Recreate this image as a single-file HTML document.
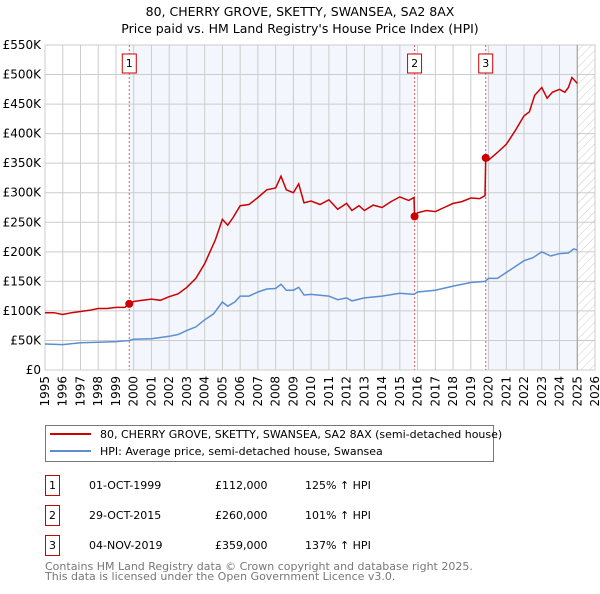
<!DOCTYPE html>
<html><head><meta charset="utf-8"><style>
body{margin:0;background:#fff;font-family:"DejaVu Sans","Liberation Sans",sans-serif;}
svg text{font-family:"DejaVu Sans","Liberation Sans",sans-serif;}
</style></head><body>
<svg id="c" width="600" height="590" viewBox="0 0 600 590" xmlns="http://www.w3.org/2000/svg">
<defs><pattern id="hatch" width="6" height="6" patternUnits="userSpaceOnUse" patternTransform="rotate(45)"><line x1="0" y1="0" x2="0" y2="6" stroke="#ccc" stroke-width="1"/></pattern></defs>
<text x="300" y="16" text-anchor="middle" font-size="12.5">80, CHERRY GROVE, SKETTY, SWANSEA, SA2 8AX</text>
<text x="300" y="33" text-anchor="middle" font-size="12.5">Price paid vs. HM Land Registry's House Price Index (HPI)</text>
<g id="plot"></g>
<g>
<rect x="45.5" y="425.5" width="448" height="36" fill="#fff" stroke="#777"/>
<line x1="50" y1="434" x2="91" y2="434" stroke="#cc0000" stroke-width="2"/>
<text x="100" y="438" font-size="11">80, CHERRY GROVE, SKETTY, SWANSEA, SA2 8AX (semi-detached house)</text>
<line x1="50" y1="451" x2="91" y2="451" stroke="#5b8fd0" stroke-width="2"/>
<text x="100" y="455" font-size="11">HPI: Average price, semi-detached house, Swansea</text>
</g>
<g id="table" font-size="11"></g>
<text x="45" y="570" font-size="11" fill="#777">Contains HM Land Registry data © Crown copyright and database right 2025.</text>
<text x="45" y="580" font-size="11" fill="#777">This data is licensed under the Open Government Licence v3.0.</text>
</svg>
<script>
const redYears=[1995,1995.5,1996,1996.5,1997,1997.5,1998,1998.5,1999,1999.5,1999.75,2000,2000.5,2001,2001.5,2002,2002.5,2003,2003.5,2004,2004.3,2004.6,2005,2005.3,2005.6,2006,2006.5,2007,2007.5,2008,2008.3,2008.6,2009,2009.3,2009.6,2010,2010.5,2011,2011.5,2012,2012.3,2012.7,2013,2013.5,2014,2014.5,2015,2015.5,2015.8,2015.83,2016,2016.5,2017,2017.5,2018,2018.5,2019,2019.5,2019.8,2019.84,2020,2020.5,2021,2021.5,2022,2022.3,2022.6,2023,2023.3,2023.6,2024,2024.3,2024.5,2024.7,2025];
const redVals=[97,97,94,97,99,101,104,104,106,106,112,116,118,120,118,124,129,140,155,180,200,220,255,245,258,278,280,292,305,308,328,305,300,315,283,286,280,288,272,282,270,278,270,279,275,285,293,287,292,260,266,270,268,275,282,285,291,290,295,359,355,368,382,405,430,437,465,478,460,470,475,470,478,495,485];
const hpiYears=[1995,1996,1997,1998,1999,1999.75,2000,2001,2002,2002.5,2003,2003.5,2004,2004.5,2005,2005.3,2005.7,2006,2006.5,2007,2007.5,2008,2008.3,2008.6,2009,2009.3,2009.6,2010,2011,2011.5,2012,2012.3,2013,2014,2015,2015.8,2016,2017,2018,2019,2019.8,2020,2020.5,2021,2021.5,2022,2022.5,2023,2023.5,2024,2024.5,2024.8,2025];
const hpiVals=[44,43,46,47,48,50,52,53,57,60,67,73,85,95,115,108,115,125,125,132,137,138,145,135,135,140,127,128,125,119,122,117,122,125,130,128,132,135,142,148,150,155,155,165,175,185,190,200,193,197,198,205,203];
const yTicks=[0,50,100,150,200,250,300,350,400,450,500,550];
const yTickLabels=["£0","£50K","£100K","£150K","£200K","£250K","£300K","£350K","£400K","£450K","£500K","£550K"];
const xTicks=[1995,1996,1997,1998,1999,2000,2001,2002,2003,2004,2005,2006,2007,2008,2009,2010,2011,2012,2013,2014,2015,2016,2017,2018,2019,2020,2021,2022,2023,2024,2025,2026];
const saleYears=[1999.75,2015.83,2019.84];
const saleVals=[112,260,359];
const saleLabels=["1","2","3"];
const saleDates=["01-OCT-1999","29-OCT-2015","04-NOV-2019"];
const salePrices=["£112,000","£260,000","£359,000"];
const saleHpi=["125% ↑ HPI","101% ↑ HPI","137% ↑ HPI"];
const dataEnd=2025.0;

const L=45,R=595,T=45,B=370,X0=1995,X1=2026,YMAX=550;
const sx=v=>L+(v-X0)/(X1-X0)*(R-L);
const sy=v=>B-v/YMAX*(B-T);
const NS="http://www.w3.org/2000/svg";
const plot=document.getElementById('plot');
function mk(tag,attrs,parent){const e=document.createElementNS(NS,tag);for(const k in attrs)e.setAttribute(k,attrs[k]);(parent||plot).appendChild(e);return e;}

let e;
e=mk('rect',{x:sx(saleYears[0]),y:T,width:sx(saleYears[1])-sx(saleYears[0]),height:B-T,fill:'#f3f6fd'});


e=mk('rect',{x:sx(saleYears[2]),y:T,width:sx(dataEnd)-sx(saleYears[2]),height:B-T,fill:'#f3f6fd'});


e=mk('rect',{x:sx(dataEnd),y:T,width:R-sx(dataEnd),height:B-T,fill:'url(#hatch)'});



yTicks.forEach((v,i)=>{
  e=mk('line',{x1:L,x2:R,y1:sy(v),y2:sy(v),stroke:'#ccc','stroke-width':1});
  
  
  e=mk('text',{x:L-4,y:sy(v)+4,'text-anchor':'end','font-size':12});
  e.textContent=yTickLabels[i];
  
  
});
xTicks.forEach(v=>{
  e=mk('line',{x1:sx(v),x2:sx(v),y1:T,y2:B,stroke:'#ccc','stroke-width':1});
  
  
  e=mk('text',{x:0,y:0,'text-anchor':'end','font-size':12,transform:`translate(${sx(v)+4},${B+6}) rotate(-90)`});
  e.textContent=v;
  
  
});
e=mk('rect',{x:L,y:T,width:R-L,height:B-T,fill:'none',stroke:'#ccc'});


e=mk('line',{x1:sx(dataEnd),x2:sx(dataEnd),y1:T,y2:B,stroke:'#999','stroke-width':1});



saleYears.forEach((v,i)=>{
  e=mk('line',{x1:sx(v),x2:sx(v),y1:T,y2:B,stroke:'#e06060','stroke-width':1,'stroke-dasharray':'2,2'});
  
  
  e=mk('rect',{x:sx(v)-7,y:54,width:14,height:19,fill:'#fff',stroke:'#cc0000'});
  
  
  e=mk('text',{x:sx(v),y:67,'text-anchor':'middle','font-size':11});
  e.textContent=saleLabels[i];
  
  
});

const path=(xs,ys)=>xs.map((x,i)=>(i?'L':'M')+sx(x).toFixed(1)+','+sy(ys[i]).toFixed(1)).join('');
e=mk('path',{d:path(hpiYears,hpiVals),fill:'none',stroke:'#5b8fd0','stroke-width':1.5});


e=mk('path',{d:path(redYears,redVals),fill:'none',stroke:'#cc0000','stroke-width':1.5});


saleYears.forEach((v,i)=>{
  e=mk('circle',{cx:sx(v),cy:sy(saleVals[i]),r:4,fill:'#cc0000'});
  
  
});

const tb=document.getElementById('table');
saleYears.forEach((v,i)=>{
  const y=475+i*30;
  e=mk('rect',{x:45.5,y:y+0.5,width:14,height:20,fill:'#fff',stroke:'#cc0000'},tb);
  
  
  e=mk('text',{x:52.5,y:y+14,'text-anchor':'middle'},tb);e.textContent=saleLabels[i];
  
  
  e=mk('text',{x:89,y:y+14},tb);e.textContent=saleDates[i];
  
  
  e=mk('text',{x:215,y:y+14},tb);e.textContent=salePrices[i];
  
  
  e=mk('text',{x:305,y:y+14},tb);e.textContent=saleHpi[i];
  
  
});
</script>
</body></html>
